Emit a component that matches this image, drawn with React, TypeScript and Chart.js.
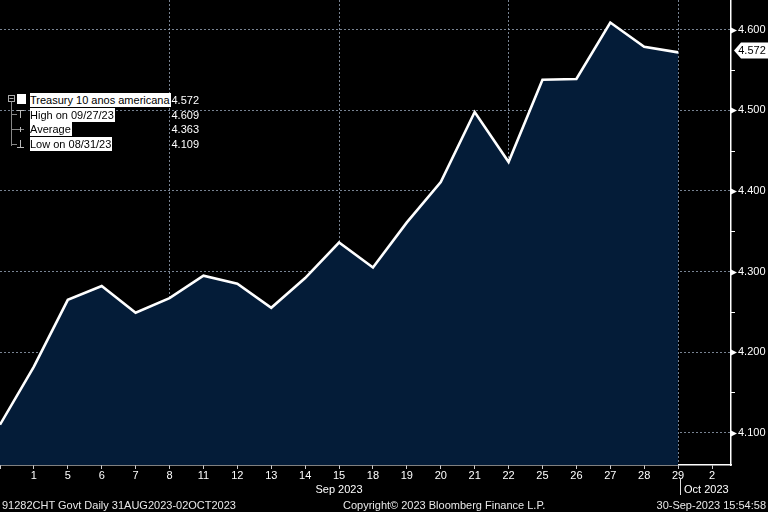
import React, { useEffect, useRef } from "react";
import { Chart, registerables } from "chart.js";

Chart.register(...registerables);

// ---- data ----
const dayLabels = ["31", "1", "5", "6", "7", "8", "11", "12", "13", "14", "15", "18", "19", "20", "21", "22", "25", "26", "27", "28", "29", "2"];
const yields = [4.110, 4.182, 4.265, 4.282, 4.249, 4.267, 4.295, 4.285, 4.255, 4.292, 4.336, 4.305, 4.361, 4.411, 4.498, 4.436, 4.538, 4.539, 4.609, 4.579, 4.572];
const weeklyGridDays = ["8", "15", "22", "29"];
const legendNames = ["Treasury 10 anos americana", "High on 09/27/23", "Average", "Low on 08/31/23"];
const legendValues = ["4.572", "4.609", "4.363", "4.109"];
const monthLabels = ["Sep 2023", "Oct 2023"];
const footerLeft = "91282CHT Govt  Daily 31AUG2023-02OCT2023";
const footerCenter = "Copyright\u00A9 2023 Bloomberg Finance L.P.";
const footerRight = "30-Sep-2023 15:54:58";
const lastValueLabel = "4.572";

const FONT = "'Liberation Sans', Arial, sans-serif";
const FILL = "#041c38";
const GRID = "rgba(160,175,195,0.75)";

const isMajor = (v: number) => Math.abs(v * 10 - Math.round(v * 10)) < 1e-6;

const overlayPlugin = {
  id: "overlay",
  afterDraw(chart: any) {
    const ctx = chart.ctx;
    const y = chart.scales.y;
    const area = chart.chartArea;
    ctx.save();
    // y tick marks
    y.ticks.forEach((t: any) => {
      const py = Math.round(y.getPixelForValue(t.value)) + 0.5;
      ctx.fillStyle = "#ffffff";
      ctx.strokeStyle = "#ffffff";
      if (isMajor(t.value)) {
        ctx.beginPath();
        ctx.moveTo(area.right, py - 3);
        ctx.lineTo(area.right + 6, py);
        ctx.lineTo(area.right, py + 3);
        ctx.closePath();
        ctx.fill();
      } else {
        ctx.lineWidth = 1;
        ctx.beginPath();
        ctx.moveTo(area.right, py);
        ctx.lineTo(area.right + 4, py);
        ctx.stroke();
      }
    });
    // last value tag
    const last = yields[yields.length - 1];
    const ty = y.getPixelForValue(last) - 2;
    const x0 = area.right + 3;
    ctx.fillStyle = "#ffffff";
    ctx.beginPath();
    ctx.moveTo(x0, ty);
    ctx.lineTo(x0 + 7, ty - 8);
    ctx.lineTo(768, ty - 8);
    ctx.lineTo(768, ty + 8);
    ctx.lineTo(x0 + 7, ty + 8);
    ctx.closePath();
    ctx.fill();
    ctx.fillStyle = "#000000";
    ctx.font = `11px ${FONT}`;
    ctx.textAlign = "center";
    ctx.textBaseline = "middle";
    ctx.fillText(lastValueLabel, x0 + 18, ty + 0.5);
    ctx.restore();
  },
};

function ChartCanvas() {
  const ref = useRef<HTMLCanvasElement | null>(null);
  useEffect(() => {
    if (!ref.current) return;
    const chart = new Chart(ref.current, {
      type: "line",
      data: {
        datasets: [
          {
            data: yields.map((v, i) => ({ x: i, y: v })),
            borderColor: "#ffffff",
            borderWidth: 2.6,
            backgroundColor: FILL,
            fill: "start",
            pointRadius: 0,
            tension: 0,
          },
        ],
      },
      options: {
        animation: false,
        responsive: false,
        devicePixelRatio: 1,
        layout: { padding: 0 },
        plugins: { legend: { display: false }, tooltip: { enabled: false } },
        scales: {
          x: {
            type: "linear",
            min: 0,
            max: 21.56,
            z: 1,
            afterBuildTicks: (s: any) => {
              s.ticks = dayLabels.map((_, i) => ({ value: i }));
            },
            afterFit: (s: any) => {
              s.height = 47;
              s.paddingLeft = 0;
              s.paddingRight = 0;
            },
            ticks: {
              autoSkip: false,
              maxRotation: 0,
              color: "#ffffff",
              font: { family: FONT, size: 11 },
              padding: 0,
              callback: (v: any) => (v === 0 ? "" : dayLabels[v] ?? ""),
            },
            grid: {
              drawOnChartArea: true,
              drawTicks: true,
              tickLength: 4,
              tickColor: "#cccccc",
              color: (c: any) =>
                c.tick && weeklyGridDays.includes(dayLabels[c.tick.value]) && c.tick.value < yields.length
                  ? GRID
                  : "rgba(0,0,0,0)",
              lineWidth: 1,
            },
            border: { display: true, color: "#ffffff", width: 1.5, dash: [2, 2] },
          },
          y: {
            position: "right",
            min: 4.06,
            max: 4.637,
            z: 1,
            afterBuildTicks: (s: any) => {
              const t: any[] = [];
              for (let k = 82; k <= 92; k++) t.push({ value: k * 0.05 });
              s.ticks = t.filter((o) => o.value >= 4.06 && o.value <= 4.637);
            },
            afterFit: (s: any) => {
              s.width = 37;
              s.paddingTop = 0;
              s.paddingBottom = 0;
            },
            ticks: {
              color: "#ffffff",
              font: { family: FONT, size: 11 },
              padding: 7,
              callback: (v: any) => (isMajor(v) ? Number(v).toFixed(3) : ""),
            },
            grid: {
              drawTicks: false,
              tickLength: 0,
              color: (c: any) => (c.tick && isMajor(c.tick.value) ? GRID : "rgba(0,0,0,0)"),
              lineWidth: 1,
            },
            border: { display: true, color: "#ffffff", width: 1.5, dash: [2, 2] },
          },
        },
      },
      plugins: [overlayPlugin],
    } as any);
    return () => chart.destroy();
  }, []);
  return <canvas ref={ref} width={768} height={512} style={{ position: "absolute", left: 0, top: 0 }} />;
}

const textStyle: React.CSSProperties = {
  position: "absolute",
  fontFamily: FONT,
  fontSize: 11,
  lineHeight: "14px",
  whiteSpace: "nowrap",
  color: "#ffffff",
};

export default function App() {
  return (
    <div style={{ position: "fixed", left: 0, top: 0, width: 768, height: 512, background: "#000", overflow: "hidden" }}>
      <ChartCanvas />
      {/* legend tree icon */}
      <svg width={30} height={70} style={{ position: "absolute", left: 0, top: 88 }}>
        <rect x={8.5} y={7.5} width={6} height={6} fill="none" stroke="#aaa" strokeWidth={1} />
        <line x1={9.5} y1={10.5} x2={13.5} y2={10.5} stroke="#aaa" />
        <line x1={11.5} y1={13.5} x2={11.5} y2={58} stroke="#888" />
        <rect x={17} y={6} width={9} height={10} fill="#fff" />
        <line x1={11.5} y1={26.5} x2={17} y2={26.5} stroke="#888" />
        <line x1={17} y1={22.5} x2={24} y2={22.5} stroke="#bbb" />
        <line x1={20.5} y1={22.5} x2={20.5} y2={30} stroke="#bbb" />
        <line x1={11.5} y1={41.5} x2={24} y2={41.5} stroke="#888" />
        <line x1={20.5} y1={39} x2={20.5} y2={44} stroke="#bbb" />
        <line x1={11.5} y1={56.5} x2={17} y2={56.5} stroke="#888" />
        <line x1={17} y1={59.5} x2={24} y2={59.5} stroke="#bbb" />
        <line x1={20.5} y1={52} x2={20.5} y2={59.5} stroke="#bbb" />
      </svg>
      {legendNames.map((n, i) => (
        <div key={n} style={{ ...textStyle, left: 30, top: 93 + i * 14.7, background: "#fff", color: "#000", paddingRight: 1 }}>
          {n}
        </div>
      ))}
      {legendValues.map((v, i) => (
        <div key={"v" + i} style={{ ...textStyle, right: 768 - 199, top: 93 + i * 14.7 }}>
          {v}
        </div>
      ))}
      {/* month labels */}
      <div style={{ ...textStyle, left: 339, top: 482, transform: "translateX(-50%)" }}>{monthLabels[0]}</div>
      <div style={{ position: "absolute", left: 680, top: 478, width: 1, height: 17, background: "#ddd" }} />
      <div style={{ ...textStyle, left: 684, top: 482 }}>{monthLabels[1]}</div>
      {/* footer */}
      <div style={{ ...textStyle, left: 2, top: 498, color: "#e8e8e8" }}>{footerLeft}</div>
      <div style={{ ...textStyle, left: 343, top: 498, color: "#e8e8e8" }}>{footerCenter}</div>
      <div style={{ ...textStyle, right: 2, top: 498, color: "#e8e8e8" }}>{footerRight}</div>
    </div>
  );
}
